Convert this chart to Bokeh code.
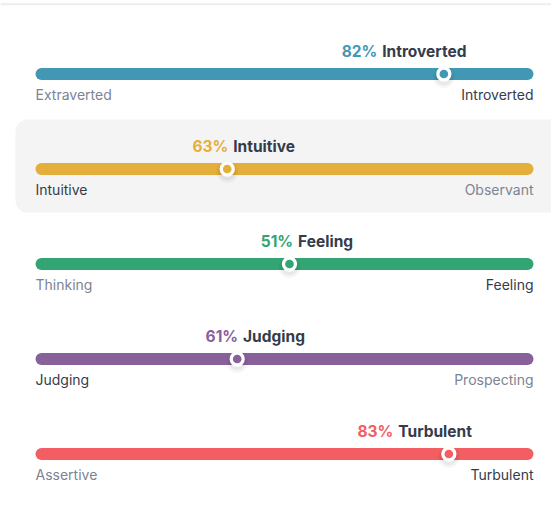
from bokeh.plotting import figure
from bokeh.models import Range1d
from bokeh.core.properties import value
from bokeh.embed import file_html
from bokeh.resources import INLINE

# ---- data ----
dominant = ["Introverted", "Intuitive", "Feeling", "Judging", "Turbulent"]
percents = [82, 63, 51, 61, 83]
left_labels = ["Extraverted", "Intuitive", "Thinking", "Judging", "Assertive"]
right_labels = ["Introverted", "Observant", "Feeling", "Prospecting", "Turbulent"]
colors = ["#4298b4", "#e4ae3a", "#33a474", "#88619a", "#f25e62"]

# ---- layout (figure pixels) ----
W, H = 551, 500
PX = 4.98                 # pixels per percent unit
X0 = -35 / PX             # data x at figure left edge
X1 = X0 + W / PX
ROW0, ROW_STEP = 73.5, 95  # bar centre of first row, row spacing (px)
DARK = "#343c4b"
GREY = "#7c8493"
FONT = value("Inter")
TSIZE = 15.5

def px(u):
    return u / PX

# approximate advance widths (em) of Inter bold, used to lay titles out
EM = {"0": .64, "1": .50, "2": .64, "3": .64, "4": .64, "5": .64, "6": .64, "7": .60,
      "8": .64, "9": .64, "%": .93, " ": .26, "I": .30, "J": .55, "T": .66, "F": .58,
      "n": .62, "t": .40, "r": .42, "o": .62, "v": .58, "e": .60, "d": .63, "u": .62,
      "i": .28, "g": .63, "l": .28, "b": .63}

def text_w(s, size=TSIZE):
    return sum(EM.get(c, .6) for c in s) * size * 0.965

p = figure(width=W, height=H, output_backend="svg", toolbar_location=None,
           x_range=Range1d(X0, X1), y_range=Range1d(H, 0),
           min_border=0, border_fill_color="white", background_fill_color="white")
p.axis.visible = False
p.grid.visible = False
p.outline_line_color = None

# top border line of the card above
p.segment(x0=[X0], x1=[X1], y0=[3.5], y1=[3.5], line_color="#e3e3e3", line_width=1)
p.segment(x0=[X0], x1=[X1], y0=[4.5], y1=[4.5], line_color="#000000", line_alpha=0.03, line_width=1)

# background panels
p.quad(left=[X0 + px(553)], right=[X1 + 5], top=[25], bottom=[497],
       fill_color="#f4f4f4", line_color="#ececec", border_radius=10)
p.quad(left=[X0 + px(15)], right=[X1 + 5], top=[119], bottom=[212],
       fill_color="#f4f4f4", line_color=None, border_radius=12)

bar_half = px(6)
gap = 5
for i, (dom, pct, ll, rl, col) in enumerate(zip(dominant, percents, left_labels, right_labels, colors)):
    yc = ROW0 + i * ROW_STEP
    left_dom = dom == ll
    pos = (100 - pct + 1.5) if left_dom else pct
    # bar
    p.segment(x0=[bar_half], x1=[100 - bar_half], y0=[yc], y1=[yc],
              line_color=col, line_width=12, line_cap="round")
    # marker shadow + marker
    p.scatter(x=[pos], y=[yc + 3], size=22, fill_color="black", fill_alpha=0.035, line_color=None)
    p.scatter(x=[pos], y=[yc + 2.5], size=18, fill_color="black", fill_alpha=0.05, line_color=None)
    p.scatter(x=[pos], y=[yc], size=12, fill_color=col, line_color="white", line_width=3.3)
    # title
    pct_s = f"{pct}%"
    wp, wn = text_w(pct_s), text_w(dom)
    if pos > 75:
        name_left = pos + px(22) - px(wn)
        split = name_left - px(gap / 2)
    else:
        centre = pos + px(17.5)
        split = centre - px(wp + gap + wn) / 2 + px(wp + gap / 2)
    ty = yc - 22.5
    p.text(x=[split - px(gap / 2)], y=[ty], text=[pct_s], text_font=FONT,
           text_font_size=value(f"{TSIZE}px"), text_font_style="bold", text_color=col,
           text_align="right", text_baseline="alphabetic")
    p.text(x=[split + px(gap / 2)], y=[ty], text=[dom], text_font=FONT,
           text_font_size=value(f"{TSIZE}px"), text_font_style="bold", text_color=DARK,
           text_align="left", text_baseline="alphabetic")
    # side labels
    ly = yc + 20.5
    p.text(x=[0], y=[ly], text=[ll], text_font=FONT, text_font_size=value("14px"),
           text_color=DARK if left_dom else GREY, text_align="left", text_baseline="alphabetic")
    p.text(x=[100], y=[ly], text=[rl], text_font=FONT, text_font_size=value("14px"),
           text_color=GREY if left_dom else DARK, text_align="right", text_baseline="alphabetic")

open("out.html", "w").write(file_html(p, INLINE))
